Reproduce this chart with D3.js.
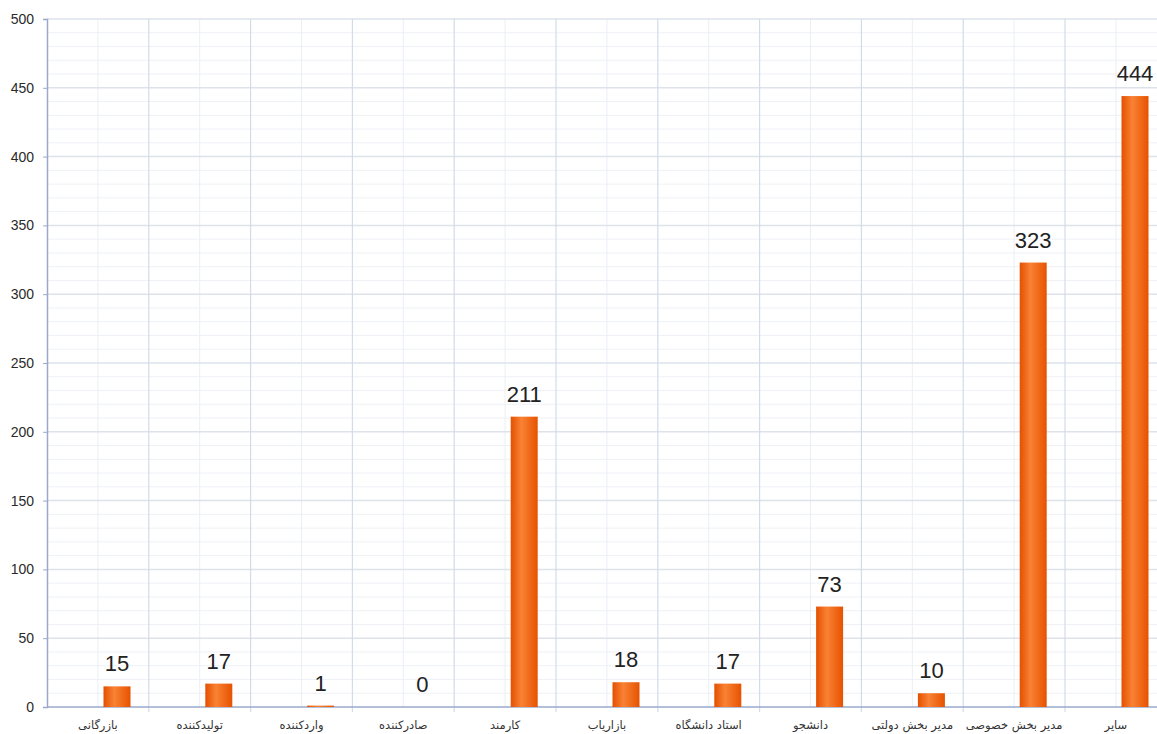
<!DOCTYPE html>
<html>
<head>
<meta charset="utf-8">
<script src="https://cdn.jsdelivr.net/npm/d3@7"></script>
<style>
	body { margin: 0; background: #fff; }
	svg { display: block; }
</style>
</head>
<body>
<div id="chart-area"></div>
<script>
// categories (left to right) and counts
const categories = ["بازرگانی", "تولیدکننده", "واردکننده", "صادرکننده", "کارمند", "بازاریاب",
	"استاد دانشگاه", "دانشجو", "مدیر بخش دولتی", "مدیر بخش خصوصی", "سایر"];
const counts = [15, 17, 1, 0, 211, 18, 17, 73, 10, 323, 444];
const yTicks = [0, 50, 100, 150, 200, 250, 300, 350, 400, 450, 500];

const drawChart = () => {
	let margin = {left: 47, right: 0, top: 19, bottom: 27};
	let fullW = 1157, fullH = 734;
	let height = fullH - margin.top - margin.bottom;
	let step = 101.8;
	let width = step * categories.length;

	let svg = d3.select("#chart-area")
		.append("svg")
			.attr("width", fullW)
			.attr("height", fullH)
		.append("g")
			.attr("transform", "translate(" + margin.left + "," + margin.top + ")");

	// bar gradient
	let grad = svg.append("defs").append("linearGradient")
		.attr("id", "barGrad")
		.attr("x1", "0%").attr("x2", "100%");
	grad.append("stop").attr("offset", "0%").attr("stop-color", "#e45000");
	grad.append("stop").attr("offset", "40%").attr("stop-color", "#f98234");
	grad.append("stop").attr("offset", "100%").attr("stop-color", "#e65200");

	let x = d3.scaleBand()
		.domain(categories)
		.range([0, width])
		.padding(0);

	let y = d3.scaleLinear()
		.domain([0, 500])
		.range([height, 0]);

	// minor horizontal grid (every 10)
	svg.append("g")
		.selectAll("line")
		.data(d3.range(0, 501, 10).filter((d) => d % 50 !== 0))
		.enter().append("line")
			.attr("x1", 0).attr("x2", width)
			.attr("y1", (d) => y(d)).attr("y2", (d) => y(d))
			.attr("stroke", "#eef1f6")
			.attr("stroke-width", 1);

	// minor vertical grid at band centres
	svg.append("g")
		.selectAll("line")
		.data(categories)
		.enter().append("line")
			.attr("x1", (d) => x(d) + x.bandwidth() / 2)
			.attr("x2", (d) => x(d) + x.bandwidth() / 2)
			.attr("y1", 0).attr("y2", height)
			.attr("stroke", "#eaeef5");

	// major horizontal grid
	svg.append("g")
		.selectAll("line")
		.data(yTicks.slice(1))
		.enter().append("line")
			.attr("x1", 0).attr("x2", width)
			.attr("y1", (d) => y(d)).attr("y2", (d) => y(d))
			.attr("stroke", "#dde2eb")
			.attr("stroke-width", 1.5);

	// major vertical grid at band edges
	svg.append("g")
		.selectAll("line")
		.data(categories.slice(1))
		.enter().append("line")
			.attr("x1", (d) => x(d)).attr("x2", (d) => x(d))
			.attr("y1", 0).attr("y2", height + 5)
			.attr("stroke", "#d3dbe9")
			.attr("stroke-width", 1.2);

	// Y axis
	let yAxis = d3.axisLeft(y)
		.tickValues(yTicks)
		.tickSize(4)
		.tickPadding(9);
	let yg = svg.append("g")
		.attr("class", "left-axis")
		.call(yAxis);
	yg.select(".domain").attr("stroke", "#9aa8cc").attr("stroke-width", 1.5);
	yg.selectAll(".tick line").attr("stroke", "#9aa8cc");
	yg.selectAll("text")
		.attr("font-family", "Arial, 'Liberation Sans', sans-serif")
		.attr("font-size", "14px")
		.attr("fill", "#2a2a2a");

	// X baseline
	svg.append("line")
		.attr("x1", 0).attr("x2", width)
		.attr("y1", y(0)).attr("y2", y(0))
		.attr("stroke", "#9aa8cc")
		.attr("stroke-width", 1.5);

	// X labels
	svg.append("g")
		.selectAll("text")
		.data(categories)
		.enter().append("text")
			.attr("x", (d) => x(d) + x.bandwidth() / 2)
			.attr("y", height + 22)
			.attr("text-anchor", "middle")
			.attr("direction", "rtl")
			.attr("font-family", "'DejaVu Sans', sans-serif")
			.attr("font-size", "11.5px")
			.attr("fill", "#333")
			.text((d) => d);

	// bars sit right of band centre
	let barW = 27;
	let barX = (d) => x(d) + 70 - barW / 2;

	svg.append("g")
		.selectAll("rect")
		.data(categories)
		.enter().append("rect")
			.attr("x", (d) => barX(d))
			.attr("width", barW)
			.attr("y", (d, i) => y(counts[i]))
			.attr("height", (d, i) => height - y(counts[i]))
			.attr("fill", "url(#barGrad)");

	// value labels
	svg.append("g")
		.selectAll("text")
		.data(categories)
		.enter().append("text")
			.attr("x", (d) => barX(d) + barW / 2)
			.attr("y", (d, i) => y(counts[i]) - 15)
			.attr("text-anchor", "middle")
			.attr("font-family", "Arial, 'Liberation Sans', sans-serif")
			.attr("font-size", "22px")
			.attr("fill", "#222")
			.text((d, i) => counts[i]);
};

drawChart();
</script>
</body>
</html>
